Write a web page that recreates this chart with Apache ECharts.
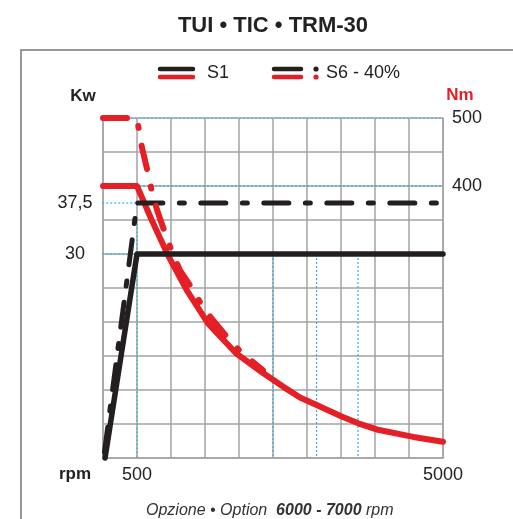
<!DOCTYPE html>
<html><head><meta charset="utf-8">
<script src="https://cdn.jsdelivr.net/npm/echarts@6/dist/echarts.min.js"></script>
<style>html,body{margin:0;padding:0;background:#fff}#c{width:513px;height:519px}</style>
</head><body><div id="c"></div>
<script>
// ---- data ----
const rpmTickLabels = [500, 5000];
const nmTickLabels = [400, 500];
const kwTickLabels = [30, 37.5];

const s1PowerRpm = [30, 500, 5000];
const s1PowerKw = [0, 30, 30];
const s6PowerRpm = [10, 500, 5000];
const s6PowerKw = [0, 37.5, 37.5];

const s1TorqueRpm = [0, 500, 716, 956, 1231, 1544, 1956, 2353, 2647, 2897, 3142, 3510, 3754, 4025, 4563, 5000];
const s1TorqueNm = [400, 400, 350, 298, 247, 198, 154, 125, 105, 89, 78, 61, 51, 42, 31, 24];
const s6TorqueRpm = [0, 500, 529, 574, 662, 721, 794, 912, 1015, 1132, 1353, 1470, 1647, 1838, 2015, 2353];
const s6TorqueNm = [500, 500, 482, 456, 419, 391, 365, 331, 303, 276, 243, 221, 199, 176, 157, 129];

// guide (dotted) lines
const guideNmLevels = [400, 500];
const guideKwLevels = [30, 37.5];
const guideRpmLevels = [2500, 3140, 3750];

// ---- chart ----
const FONT = '"Liberation Sans", Arial, Helvetica, sans-serif';
const BLACK = '#231f20', RED = '#e41f26', GRID = '#a3a3a3', BLUE = '#2bb0e4', TXT = '#222';
const zip = (a, b) => a.map((v, i) => [v, b[i]]);
const guideStyle = { color: BLUE, width: 1.2, type: [2, 2] };
const base = { type: 'line', symbol: 'none', silent: true, animation: false };

const series = [];
guideNmLevels.forEach(v => series.push(Object.assign({}, base, {
  yAxisIndex: 1, z: 1, data: [[0, v], [5000, v]], lineStyle: guideStyle })));
guideKwLevels.forEach(v => series.push(Object.assign({}, base, {
  yAxisIndex: 0, z: 1, clip: false, data: [[-70, v], [500, v]], lineStyle: guideStyle })));
series.push(Object.assign({}, base, {
  yAxisIndex: 0, z: 1, data: [[500, 34.5], [500, 0]], lineStyle: guideStyle }));
guideRpmLevels.forEach(v => series.push(Object.assign({}, base, {
  yAxisIndex: 0, z: 1, data: [[v, 30], [v, 0]], lineStyle: guideStyle })));

series.push(Object.assign({}, base, { name: 'S1 Nm', yAxisIndex: 1, z: 3, clip: false,
  data: zip(s1TorqueRpm, s1TorqueNm),
  lineStyle: { color: RED, width: 6, cap: 'round', join: 'round' } }));
series.push(Object.assign({}, base, { name: 'S1 Kw', yAxisIndex: 0, z: 4, clip: false,
  data: zip(s1PowerRpm, s1PowerKw),
  lineStyle: { color: BLACK, width: 5.5, cap: 'round', join: 'round' } }));
series.push(Object.assign({}, base, { name: 'S6 Kw', yAxisIndex: 0, z: 4, clip: false,
  data: zip(s6PowerRpm, s6PowerKw),
  lineStyle: { color: BLACK, width: 5, type: [25, 16.5, 5, 16.5], dashOffset: 57, cap: 'round', join: 'round' } }));
series.push(Object.assign({}, base, { name: 'S6 Nm', yAxisIndex: 1, z: 5, clip: false,
  data: zip(s6TorqueRpm, s6TorqueNm),
  lineStyle: { color: RED, width: 6, type: [24, 18, 2, 18], cap: 'round', join: 'round' } }));

const axisLine = { show: true, lineStyle: { color: GRID, width: 1.5 } };
const labelBase = { fontSize: 18, color: TXT, fontFamily: FONT };

const txt = (x, y, text, extra) => ({ type: 'text', x: x, y: y, silent: true,
  style: Object.assign({ text: text, fontFamily: FONT, fill: TXT, fontSize: 18,
    textAlign: 'center', textVerticalAlign: 'middle' }, extra || {}) });
const seg = (x1, y1, x2, y2, color) => ({ type: 'line', silent: true,
  shape: { x1: x1, y1: y1, x2: x2, y2: y2 },
  style: { stroke: color, lineWidth: 4.5, lineCap: 'round' } });
const dot = (cx, cy, color) => ({ type: 'circle', silent: true,
  shape: { cx: cx, cy: cy, r: 2.6 }, style: { fill: color } });

const chart = echarts.init(document.getElementById('c'));
chart.setOption({
  animation: false,
  backgroundColor: '#fff',
  grid: { left: 103, right: 70, top: 118, bottom: 61 },
  xAxis: {
    type: 'value', min: 0, max: 5000, interval: 500,
    axisLine: axisLine, axisTick: { show: false },
    splitLine: { show: true, lineStyle: { color: GRID, width: 1.5 } },
    axisLabel: Object.assign({ customValues: rpmTickLabels, margin: 8,
      formatter: v => String(v) }, labelBase)
  },
  yAxis: [{
    type: 'value', min: 0, max: 50, position: 'left',
    axisLine: axisLine, axisTick: { show: false }, splitLine: { show: false },
    axisLabel: Object.assign({ customValues: kwTickLabels, align: 'center', margin: 28,
      formatter: v => String(v).replace('.', ',') }, labelBase)
  }, {
    type: 'value', min: 0, max: 500, interval: 50, position: 'right',
    axisLine: axisLine, axisTick: { show: false },
    splitLine: { show: true, lineStyle: { color: GRID, width: 1.5 } },
    axisLabel: Object.assign({ customValues: nmTickLabels, margin: 9,
      formatter: v => String(v) }, labelBase)
  }],
  series: series,
  graphic: [
    { type: 'polyline', silent: true, shape: { points: [[21, 530], [21, 50], [530, 50]] },
      style: { stroke: '#777', lineWidth: 1.5, fill: null } },
    txt(273, 26, 'TUI • TIC • TRM-30', { fontSize: 22, fontWeight: 'bold' }),
    seg(160, 69, 193, 69, BLACK), seg(160, 77, 193, 77, RED),
    txt(207, 73, 'S1', { textAlign: 'left' }),
    seg(274, 69, 301, 69, BLACK), seg(274, 77, 301, 77, RED),
    dot(316, 69, BLACK), dot(316, 77, RED),
    txt(326, 73, 'S6 - 40%', { textAlign: 'left' }),
    txt(83, 96, 'Kw', { fontSize: 17, fontWeight: 'bold' }),
    txt(460, 95, 'Nm', { fontSize: 17, fontWeight: 'bold', fill: RED }),
    txt(75, 474, 'rpm', { fontSize: 17, fontWeight: 'bold' }),
    { type: 'text', x: 146, y: 511, silent: true,
      style: { text: '{i|Opzione • Option  }{b|6000 - 7000}{i| rpm}',
        textVerticalAlign: 'middle', fill: '#333',
        rich: {
          i: { fontFamily: FONT, fontSize: 16, fontStyle: 'italic', fill: '#333' },
          b: { fontFamily: FONT, fontSize: 16, fontStyle: 'italic', fontWeight: 'bold', fill: '#333' }
        } } }
  ]
});
</script>
</body></html>
